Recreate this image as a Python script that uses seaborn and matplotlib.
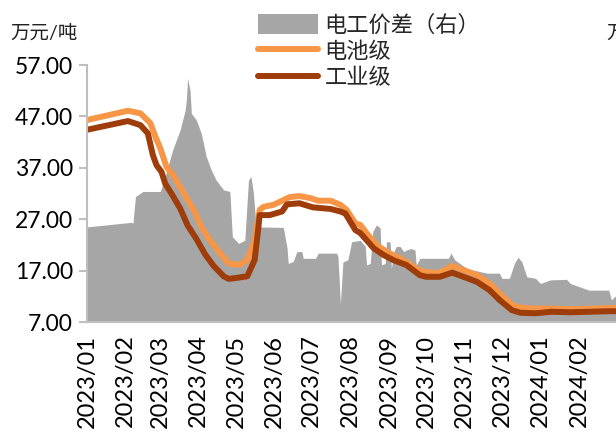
import matplotlib
matplotlib.use("Agg")
import matplotlib.pyplot as plt
import matplotlib.dates as mdates
from matplotlib.patches import Patch
from matplotlib.lines import Line2D
import pandas as pd
import seaborn as sns

# 碳酸锂价格（万元/吨）
battery_dates = ["2023-01-01", "2023-02-03", "2023-02-13", "2023-02-21", "2023-02-25", "2023-03-01",
                 "2023-03-06", "2023-03-12", "2023-03-20", "2023-03-28", "2023-04-03", "2023-04-10",
                 "2023-04-18", "2023-04-25", "2023-05-04", "2023-05-10", "2023-05-16", "2023-05-20",
                 "2023-05-23", "2023-05-31", "2023-06-08", "2023-06-13", "2023-06-21", "2023-06-30",
                 "2023-07-06", "2023-07-16", "2023-07-24", "2023-07-29", "2023-08-05", "2023-08-09",
                 "2023-08-14", "2023-08-22", "2023-08-30", "2023-09-07", "2023-09-15", "2023-09-23",
                 "2023-09-28", "2023-10-10", "2023-10-16", "2023-10-22", "2023-10-31", "2023-11-11",
                 "2023-11-21", "2023-11-29", "2023-12-09", "2023-12-16", "2023-12-28", "2024-01-10",
                 "2024-01-25", "2024-02-10", "2024-02-25", "2024-03-06"]
battery = [46.3, 48.1, 47.6, 45.7, 43.1, 40.8, 37.2, 35.3, 32.0, 28.8, 25.5, 22.9, 20.4, 18.4,
           18.1, 19.1, 22.9, 28.8, 29.4, 29.8, 30.7, 31.3, 31.5, 31.1, 30.6, 30.6, 29.8, 28.8,
           26.2, 25.9, 24.3, 22.0, 20.7, 19.7, 18.7, 17.4, 16.8, 16.5, 17.1, 17.9, 17.1, 16.1,
           14.5, 12.6, 10.3, 9.8, 9.6, 9.6, 9.5, 9.6, 9.7, 9.7]

industrial_dates = ["2023-01-01", "2023-02-03", "2023-02-13", "2023-02-19", "2023-02-23", "2023-02-26",
                    "2023-03-02", "2023-03-05", "2023-03-10", "2023-03-17", "2023-03-23", "2023-03-30",
                    "2023-04-06", "2023-04-13", "2023-04-21", "2023-04-25", "2023-05-02", "2023-05-10",
                    "2023-05-16", "2023-05-19", "2023-05-20", "2023-05-28", "2023-06-07", "2023-06-11",
                    "2023-06-21", "2023-07-02", "2023-07-16", "2023-07-24", "2023-07-28", "2023-08-01",
                    "2023-08-05", "2023-08-09", "2023-08-20", "2023-08-28", "2023-09-05", "2023-09-15",
                    "2023-09-26", "2023-10-01", "2023-10-12", "2023-10-22", "2023-10-31", "2023-11-11",
                    "2023-11-21", "2023-11-29", "2023-12-09", "2023-12-16", "2023-12-28", "2024-01-10",
                    "2024-01-25", "2024-02-10", "2024-02-25", "2024-03-06"]
industrial = [44.4, 46.1, 45.3, 43.7, 39.5, 37.5, 36.2, 33.9, 32.0, 29.1, 25.8, 23.2, 20.2, 17.9,
              15.9, 15.4, 15.6, 15.9, 19.1, 25.5, 27.8, 27.8, 28.5, 29.9, 30.1, 29.3, 29.0, 28.5,
              28.1, 26.5, 24.9, 24.3, 21.3, 20.0, 19.0, 18.1, 16.1, 15.8, 15.8, 16.6, 15.8, 14.8,
              13.2, 11.3, 9.3, 8.8, 8.7, 9.0, 8.9, 9.0, 9.1, 9.1]

# 电池级与工业级价差（右轴，万元/吨）
spread_dates = ["2023-01-01", "2023-02-06", "2023-02-07", "2023-02-09", "2023-02-15", "2023-03-01",
                "2023-03-04", "2023-03-11", "2023-03-17", "2023-03-21", "2023-03-22", "2023-03-23",
                "2023-03-25", "2023-03-26", "2023-03-30", "2023-04-03", "2023-04-07", "2023-04-11",
                "2023-04-15", "2023-04-21", "2023-04-26", "2023-04-28", "2023-05-03", "2023-05-08",
                "2023-05-11", "2023-05-13", "2023-05-15", "2023-05-17", "2023-05-19", "2023-06-08",
                "2023-06-11", "2023-06-12", "2023-06-16", "2023-06-19", "2023-06-23", "2023-06-24",
                "2023-07-04", "2023-07-06", "2023-07-21", "2023-07-22", "2023-07-24", "2023-07-26",
                "2023-07-30", "2023-08-02", "2023-08-09", "2023-08-13", "2023-08-14", "2023-08-17",
                "2023-08-19", "2023-08-22", "2023-08-25", "2023-08-26", "2023-08-29", "2023-08-30",
                "2023-09-02", "2023-09-03", "2023-09-05", "2023-09-07", "2023-09-10", "2023-09-13",
                "2023-09-15", "2023-09-19", "2023-09-22", "2023-09-23", "2023-09-26", "2023-10-19",
                "2023-10-21", "2023-10-24", "2023-10-28", "2023-11-03", "2023-11-08", "2023-11-19",
                "2023-11-29", "2023-12-01", "2023-12-07", "2023-12-11", "2023-12-14", "2023-12-17",
                "2023-12-21", "2023-12-28", "2024-01-01", "2024-01-09", "2024-01-22", "2024-01-25",
                "2024-02-09", "2024-02-25", "2024-02-27", "2024-03-02", "2024-03-06"]
spread = [1.85, 1.94, 1.92, 2.44, 2.54, 2.54, 2.76, 3.35, 3.74, 4.12, 4.32, 4.74, 4.50, 4.06,
          3.93, 3.67, 3.22, 2.96, 2.76, 2.57, 2.54, 1.66, 1.53, 1.59, 2.76, 2.83, 2.50, 1.88,
          1.85, 1.84, 1.45, 1.14, 1.18, 1.37, 1.37, 1.24, 1.24, 1.34, 1.34, 1.27, 0.36, 1.17,
          1.21, 1.56, 1.59, 1.47, 1.11, 1.14, 1.76, 1.89, 1.83, 1.11, 1.14, 1.56, 1.56, 1.04,
          1.37, 1.47, 1.47, 1.37, 1.40, 1.43, 1.40, 1.11, 1.24, 1.24, 1.34, 1.21, 1.14, 1.04,
          1.01, 0.95, 0.95, 0.85, 0.85, 1.14, 1.26, 1.17, 0.88, 0.85, 0.75, 0.82, 0.83, 0.75,
          0.62, 0.62, 0.43, 0.52, 0.55]

left_ticks = [7, 17, 27, 37, 47, 57]
month_ticks = pd.date_range("2023-01-01", "2024-02-01", freq="MS")

C_SPREAD = "#a6a6a6"
C_BATT = "#f79646"
C_IND = "#9e3d0a"
C_AXIS = "#bfbfbf"

sns.set_theme(style="white")
plt.rcParams["font.family"] = ["Lato", "Noto Sans CJK SC", "DejaVu Sans"]
plt.rcParams["axes.unicode_minus"] = False

df_b = pd.DataFrame({"date": pd.to_datetime(battery_dates), "price": battery})
df_i = pd.DataFrame({"date": pd.to_datetime(industrial_dates), "price": industrial})
df_s = pd.DataFrame({"date": pd.to_datetime(spread_dates), "spread": spread})

fig = plt.figure(figsize=(6.16, 4.32), dpi=100)
ax = fig.add_axes([0.1412, 0.2546, 0.8713, 0.5949])
ax2 = ax.twinx()

# 价差面积图放在右轴
ax2.fill_between(df_s["date"], 0, df_s["spread"], color=C_SPREAD, linewidth=0)
ax2.set_ylim(0, 5)
ax2.set_yticks([])
for s in ax2.spines.values():
    s.set_visible(False)

# 价格线放在左轴并置于面积之上
ax.set_zorder(ax2.get_zorder() + 1)
ax.patch.set_visible(False)
sns.lineplot(data=df_b, x="date", y="price", ax=ax, color=C_BATT, linewidth=4.3,
             solid_joinstyle="round", solid_capstyle="butt")
sns.lineplot(data=df_i, x="date", y="price", ax=ax, color=C_IND, linewidth=4.3,
             solid_joinstyle="round", solid_capstyle="butt")

ax.set_ylim(7, 57)
ax.set_yticks(left_ticks)
ax.set_yticklabels([f"{v:.2f}" for v in left_ticks], fontsize=16.5, color="black")
ax.set_xlim(pd.Timestamp("2023-01-01"), pd.Timestamp("2024-03-08"))
ax.set_xticks(month_ticks)
ax.xaxis.set_major_formatter(mdates.DateFormatter("%Y/%m"))
ax.tick_params(axis="x", rotation=90, labelsize=17, direction="inout", length=14,
               width=1.5, color=C_AXIS, pad=2, labelcolor="black")
ax.tick_params(axis="y", direction="out", length=6, width=1.5, color=C_AXIS, pad=4)
ax.set_xlabel("")
ax.set_ylabel("")
for side in ("top", "right"):
    ax.spines[side].set_visible(False)
for side in ("left", "bottom"):
    ax.spines[side].set_color(C_AXIS)
    ax.spines[side].set_linewidth(1.5)
ax.grid(False)

fig.text(10 / 616, 1 - 33 / 432, "万元/吨", fontsize=14, ha="left", va="center", color="#222222")
fig.text(606 / 616, 1 - 33 / 432, "万元/吨", fontsize=14, ha="left", va="center", color="#222222")

handles = [Patch(facecolor=C_SPREAD, edgecolor="none"),
           Line2D([0], [0], color=C_BATT, linewidth=4.3),
           Line2D([0], [0], color=C_IND, linewidth=4.3)]
labels = ["电工价差（右）", "电池级", "工业级"]
fig.legend(handles, labels, loc="upper left", bbox_to_anchor=(258 / 616, 1 - 14 / 432),
           frameon=False, fontsize=16, handlelength=2.7, handleheight=1.0,
           labelspacing=0.22, handletextpad=0.3, borderpad=0, borderaxespad=0)

fig.savefig("out.png", dpi=100)
